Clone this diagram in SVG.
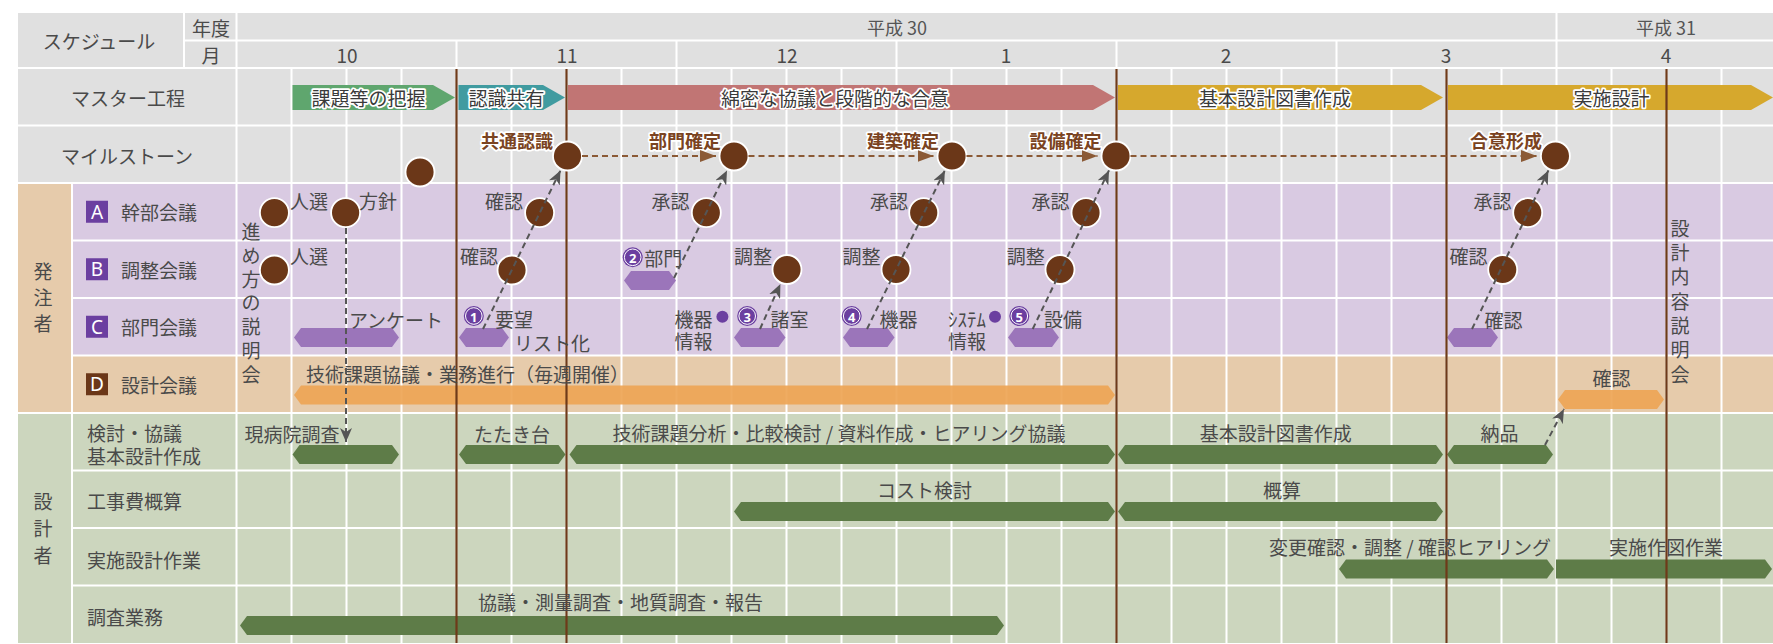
<svg xmlns="http://www.w3.org/2000/svg" width="1773" height="644" viewBox="0 0 1773 644">
<style>
text{font-family:"Noto Sans CJK JP","Noto Sans",sans-serif;fill:#4a4a4a;font-size:19px;dominant-baseline:central}
.c{text-anchor:middle}
.hd{fill:#555;font-size:18px}
.mt{fill:#3a3a3a;stroke:#fff;stroke-width:3.5px;paint-order:stroke;stroke-linejoin:round;text-anchor:middle}
.ms{fill:#7a4321;font-weight:700;font-size:18px;stroke:#fff;stroke-width:3.5px;paint-order:stroke;stroke-linejoin:round;text-anchor:middle}
.lt{fill:#fff;font-family:"Noto Sans",sans-serif;text-anchor:middle;font-size:19px}
.nm{fill:#fff;font-family:"Noto Sans",sans-serif;font-weight:700;font-size:13px;text-anchor:middle}
.grid{stroke:#fff;stroke-width:2;fill:none}
.bl{stroke:#6e3a19;stroke-width:2.2;fill:none}
.dot{fill:#6b3718;stroke:#fff;stroke-width:1.8}
.pdot{fill:#6b3fa0}
.gbar{fill:#5e7c48}
.pbar{fill:#9b75ba}
.obar{fill:#eea555;opacity:.92}
.dash{stroke:#555;stroke-width:2;stroke-dasharray:6 4;fill:none;marker-end:url(#ga)}
.bdash{stroke:#8b5a36;stroke-width:2;stroke-dasharray:6 4;fill:none;marker-end:url(#ba)}
</style>
<defs>
<marker id="ga" viewBox="0 0 14 12" refX="14" refY="6" markerWidth="14" markerHeight="12" orient="auto" markerUnits="userSpaceOnUse"><path d="M0,0 L14,6 L0,12 L4,6Z" fill="#555"/></marker>
<marker id="ba" viewBox="0 0 16 12" refX="16" refY="6" markerWidth="16" markerHeight="12" orient="auto" markerUnits="userSpaceOnUse"><path d="M0,0 L16,6 L0,12Z" fill="#8b5a36"/></marker>
</defs>

<g id="background">
<rect x="18" y="13" width="1755" height="170" fill="#e0e0e0"/>
<rect x="72" y="183" width="1701" height="172.5" fill="#d9cae2"/>
<rect x="72" y="355.5" width="1701" height="57.5" fill="#e6cbab"/>
<rect x="18" y="183" width="54" height="230" fill="#e6cbab"/>
<rect x="18" y="413" width="1755" height="230" fill="#ccd6be"/>
</g>

<g id="grid">
<path class="grid" d="M184,40.5H1773 M18,68H1773 M18,125.5H1773 M18,183H1773 M72,240.5H1773 M72,298H1773 M72,355.5H1773 M18,413H1773 M72,470.5H1773 M72,528H1773 M72,585.5H1773 M184,13V68 M236.5,13V643 M72,183V643 M456.5,40.5V68 M676.5,40.5V68 M896.5,40.5V68 M1116.5,40.5V68 M1336.5,40.5V68 M1556.5,13V68 M291.5,68V643 M346.5,68V643 M401.5,68V643 M456.5,68V643 M511.5,68V643 M566.5,68V643 M621.5,68V643 M676.5,68V643 M731.5,68V643 M786.5,68V643 M841.5,68V643 M896.5,68V643 M951.5,68V643 M1006.5,68V643 M1061.5,68V643 M1116.5,68V643 M1171.5,68V643 M1226.5,68V643 M1281.5,68V643 M1336.5,68V643 M1391.5,68V643 M1446.5,68V643 M1501.5,68V643 M1556.5,68V643 M1611.5,68V643 M1666.5,68V643 M1721.5,68V643"/>
</g>

<g id="header">
<text class="c" x="99" y="40.5">スケジュール</text>
<text class="c" x="211" y="27">年度</text>
<text class="c" x="211" y="54.5">月</text>
<text class="c hd" x="897" y="27">平成 30</text>
<text class="c hd" x="1666" y="27">平成 31</text>
<text class="c" x="347" y="54.5">10</text>
<text class="c" x="567" y="54.5">11</text>
<text class="c" x="787" y="54.5">12</text>
<text class="c" x="1006" y="54.5">1</text>
<text class="c" x="1226" y="54.5">2</text>
<text class="c" x="1446" y="54.5">3</text>
<text class="c" x="1666" y="54.5">4</text>
</g>

<g id="row-labels">
<text class="c" x="128" y="97">マスター工程</text>
<text class="c" x="127" y="155">マイルストーン</text>
<text class="c" x="43"><tspan x="43" y="270">発</tspan><tspan x="43" y="296">注</tspan><tspan x="43" y="322">者</tspan></text>
<text class="c" x="43"><tspan x="43" y="500">設</tspan><tspan x="43" y="527">計</tspan><tspan x="43" y="554">者</tspan></text>
<g id="label-A"><rect x="86" y="200.75" width="22" height="22" fill="#6b3fa0"/><text class="lt" x="97" y="211.75">A</text><text x="121" y="211.75">幹部会議</text></g>
<g id="label-B"><rect x="86" y="258.25" width="22" height="22" fill="#6b3fa0"/><text class="lt" x="97" y="269.25">B</text><text x="121" y="269.25">調整会議</text></g>
<g id="label-C"><rect x="86" y="315.75" width="22" height="22" fill="#6b3fa0"/><text class="lt" x="97" y="326.75">C</text><text x="121" y="326.75">部門会議</text></g>
<g id="label-D"><rect x="86" y="373.25" width="22" height="22" fill="#6b3718"/><text class="lt" x="97" y="384.25">D</text><text x="121" y="384.25">設計会議</text></g>
<text x="87" y="432">検討・協議</text>
<text x="87" y="455">基本設計作成</text>
<text x="87" y="500">工事費概算</text>
<text x="87" y="559">実施設計作業</text>
<text x="87" y="616">調査業務</text>
</g>

<g id="master">
<g id="m1"><path d="M292.5,85 L433,85 L455,97.5 L433,110 L292.5,110Z" fill="#5fa66e"/><text class="mt" x="368.5" y="97.5">課題等の把握</text></g>
<g id="m2"><path d="M458.5,85 L543,85 L565,97.5 L543,110 L458.5,110Z" fill="#409ba0"/><text class="mt" x="506.5" y="97.5">認識共有</text></g>
<g id="m3"><path d="M568,85 L1093,85 L1115,97.5 L1093,110 L568,110Z" fill="#c17574"/><text class="mt" x="835" y="97.5">綿密な協議と段階的な合意</text></g>
<g id="m4"><path d="M1118,85 L1421,85 L1443,97.5 L1421,110 L1118,110Z" fill="#d6a82d"/><text class="mt" x="1275" y="97.5">基本設計図書作成</text></g>
<g id="m5"><path d="M1448,85 L1751,85 L1773,97.5 L1751,110 L1448,110Z" fill="#d6a82d"/><text class="mt" x="1611.5" y="97.5">実施設計</text></g>
</g>

<g id="bars">
<path class="pbar" d="M294,337.5 L301,328 L392,328 L399,337.5 L392,347 L301,347Z"/>
<path class="pbar" d="M459,337.5 L466,328 L502,328 L509,337.5 L502,347 L466,347Z"/>
<path class="pbar" d="M624,280.5 L631,271 L669,271 L676,280.5 L669,290 L631,290Z"/>
<path class="pbar" d="M734,337.5 L741,328 L778.5,328 L785.5,337.5 L778.5,347 L741,347Z"/>
<path class="pbar" d="M843,337.5 L850,328 L887.5,328 L894.5,337.5 L887.5,347 L850,347Z"/>
<path class="pbar" d="M1008,337.5 L1015,328 L1052,328 L1059,337.5 L1052,347 L1015,347Z"/>
<path class="pbar" d="M1447,337.5 L1454,328 L1491,328 L1498,337.5 L1491,347 L1454,347Z"/>
<path class="obar" d="M294,395 L301,385.5 L1108,385.5 L1115,395 L1108,404.5 L301,404.5Z"/>
<path class="obar" d="M1558,399.5 L1565,390 L1657,390 L1664,399.5 L1657,409 L1565,409Z"/>
<path class="gbar" d="M292.5,454.5 L299.5,445 L392,445 L399,454.5 L392,464 L299.5,464Z"/>
<path class="gbar" d="M459,454.5 L466,445 L558.5,445 L565.5,454.5 L558.5,464 L466,464Z"/>
<path class="gbar" d="M569.5,454.5 L576.5,445 L1108,445 L1115,454.5 L1108,464 L576.5,464Z"/>
<path class="gbar" d="M1118,454.5 L1125,445 L1436,445 L1443,454.5 L1436,464 L1125,464Z"/>
<path class="gbar" d="M1447,454.5 L1454,445 L1546,445 L1553,454.5 L1546,464 L1454,464Z"/>
<path class="gbar" d="M734,511.5 L741,502 L1108,502 L1115,511.5 L1108,521 L741,521Z"/>
<path class="gbar" d="M1118,511.5 L1125,502 L1436,502 L1443,511.5 L1436,521 L1125,521Z"/>
<path class="gbar" d="M1339,569 L1346,559.5 L1547,559.5 L1554,569 L1547,578.5 L1346,578.5Z"/>
<path class="gbar" d="M1556,559.5 L1765,559.5 L1772,569 L1765,578.5 L1556,578.5Z"/>
<path class="gbar" d="M240,625.5 L247,616 L997,616 L1004,625.5 L997,635 L247,635Z"/>
</g>

<g id="month-lines">
<path class="bl" d="M456.5,69V643 M566.5,69V643 M1116.5,69V643 M1446.5,69V643 M1666.5,69V643"/>
</g>

<g id="milestones">
<circle class="dot" cx="420" cy="172" r="14.5"/>
<g id="ms1"><circle class="dot" cx="567.5" cy="156" r="14.5"/><text class="ms" x="517" y="140">共通認識</text></g>
<g id="ms2"><circle class="dot" cx="734" cy="156" r="14.5"/><text class="ms" x="685" y="140">部門確定</text></g>
<g id="ms3"><circle class="dot" cx="952" cy="156" r="14.5"/><text class="ms" x="903" y="140">建築確定</text></g>
<g id="ms4"><circle class="dot" cx="1116" cy="156" r="14.5"/><text class="ms" x="1065.5" y="140">設備確定</text></g>
<g id="ms5"><circle class="dot" cx="1555.4" cy="156" r="14.5"/><text class="ms" x="1506" y="140">合意形成</text></g>
</g>

<g id="meetings">
<circle class="dot" cx="274.4" cy="212.7" r="14.5"/>
<circle class="dot" cx="345.6" cy="212.7" r="14.5"/>
<circle class="dot" cx="539.6" cy="212.7" r="14.5"/>
<circle class="dot" cx="706.3" cy="212.7" r="14.5"/>
<circle class="dot" cx="923.7" cy="212.7" r="14.5"/>
<circle class="dot" cx="1086" cy="212.7" r="14.5"/>
<circle class="dot" cx="1527.7" cy="212.7" r="14.5"/>
<circle class="dot" cx="274.4" cy="270" r="14.5"/>
<circle class="dot" cx="512" cy="270" r="14.5"/>
<circle class="dot" cx="787" cy="269.5" r="14.5"/>
<circle class="dot" cx="896" cy="269.5" r="14.5"/>
<circle class="dot" cx="1060" cy="269.5" r="14.5"/>
<circle class="dot" cx="1502.7" cy="269.5" r="14.5"/>
<circle class="pdot" cx="722.4" cy="316.7" r="6"/>
<circle class="pdot" cx="995" cy="316.7" r="6"/>
<g id="n1"><circle class="pdot" cx="473.8" cy="316" r="10"/><circle cx="473.8" cy="316" r="8.3" fill="none" stroke="#fff" stroke-width="1"/><text class="nm" x="473.8" y="316.5">1</text></g>
<g id="n2"><circle class="pdot" cx="632.7" cy="257.3" r="10"/><circle cx="632.7" cy="257.3" r="8.3" fill="none" stroke="#fff" stroke-width="1"/><text class="nm" x="632.7" y="257.8">2</text></g>
<g id="n3"><circle class="pdot" cx="747.2" cy="316" r="10"/><circle cx="747.2" cy="316" r="8.3" fill="none" stroke="#fff" stroke-width="1"/><text class="nm" x="747.2" y="316.5">3</text></g>
<g id="n4"><circle class="pdot" cx="851.7" cy="316" r="10"/><circle cx="851.7" cy="316" r="8.3" fill="none" stroke="#fff" stroke-width="1"/><text class="nm" x="851.7" y="316.5">4</text></g>
<g id="n5"><circle class="pdot" cx="1019.3" cy="316" r="10"/><circle cx="1019.3" cy="316" r="8.3" fill="none" stroke="#fff" stroke-width="1"/><text class="nm" x="1019.3" y="316.5">5</text></g>
</g>

<g id="labels">
<text class="c" x="309" y="200">人選</text>
<text class="c" x="378" y="200">方針</text>
<text class="c" x="504" y="200">確認</text>
<text class="c" x="670.5" y="200">承認</text>
<text class="c" x="889" y="200">承認</text>
<text class="c" x="1050.5" y="200">承認</text>
<text class="c" x="1492.6" y="200">承認</text>
<text class="c" x="309" y="255.5">人選</text>
<text class="c" x="479" y="255.5">確認</text>
<text class="c" x="663.3" y="257.3">部門</text>
<text class="c" x="753" y="255.5">調整</text>
<text class="c" x="861.5" y="255.5">調整</text>
<text class="c" x="1025.7" y="255.5">調整</text>
<text class="c" x="1468.5" y="255.5">確認</text>
<text class="c" x="396" y="319">アンケート</text>
<text class="c" x="514" y="318">要望</text>
<text class="c" x="552" y="342">リスト化</text>
<text class="c" x="693.5" y="318">機器</text>
<text class="c" x="693.5" y="340">情報</text>
<text class="c" x="789.5" y="318">諸室</text>
<text class="c" x="898.5" y="318">機器</text>
<text class="c" x="967" y="318">ｼｽﾃﾑ</text>
<text class="c" x="967" y="340">情報</text>
<text class="c" x="1063" y="318">設備</text>
<text class="c" x="1503.5" y="319">確認</text>
<text x="306" y="373">技術課題協議・業務進行（毎週開催）</text>
<text class="c" x="1611.5" y="377">確認</text>
<text class="c" x="251"><tspan x="251" y="230">進</tspan><tspan x="251" y="253.75">め</tspan><tspan x="251" y="277.5">方</tspan><tspan x="251" y="301.25">の</tspan><tspan x="251" y="325">説</tspan><tspan x="251" y="348.75">明</tspan><tspan x="251" y="372.5">会</tspan></text>
<text class="c" x="1680"><tspan x="1680" y="226.7">設</tspan><tspan x="1680" y="251">計</tspan><tspan x="1680" y="275.3">内</tspan><tspan x="1680" y="299.6">容</tspan><tspan x="1680" y="323.9">説</tspan><tspan x="1680" y="348.2">明</tspan><tspan x="1680" y="372.5">会</tspan></text>
<text class="c" x="292" y="433">現病院調査</text>
<text class="c" x="512" y="433">たたき台</text>
<text class="c" x="839" y="432">技術課題分析・比較検討 / 資料作成・ヒアリング協議</text>
<text class="c" x="1275.7" y="432">基本設計図書作成</text>
<text class="c" x="1499.4" y="432">納品</text>
<text class="c" x="924.4" y="489.3">コスト検討</text>
<text class="c" x="1282" y="489">概算</text>
<text class="c" x="1410" y="546.7">変更確認・調整 / 確認ヒアリング</text>
<text class="c" x="1666" y="546.7">実施作図作業</text>
<text class="c" x="620.5" y="601.7">協議・測量調査・地質調査・報告</text>
</g>

<g id="connectors">
<path class="bdash" d="M582,156 H716"/>
<path class="bdash" d="M748.5,156 H933.5"/>
<path class="bdash" d="M966.5,156 H1097.5"/>
<path class="bdash" d="M1130.5,156 H1537"/>
<path class="dash" d="M483,329 L560.5,170.4"/>
<path class="dash" d="M674,278 L727,170.4"/>
<path class="dash" d="M760,329 L780.4,283.9"/>
<path class="dash" d="M867,329 L944.9,170.4"/>
<path class="dash" d="M1032.7,329 L1109,170.4"/>
<path class="dash" d="M1472,329 L1548.4,170.4"/>
<path class="dash" d="M1545,445 L1564,409"/>
<path class="dash" d="M346,228 V442"/>
</g>
</svg>
